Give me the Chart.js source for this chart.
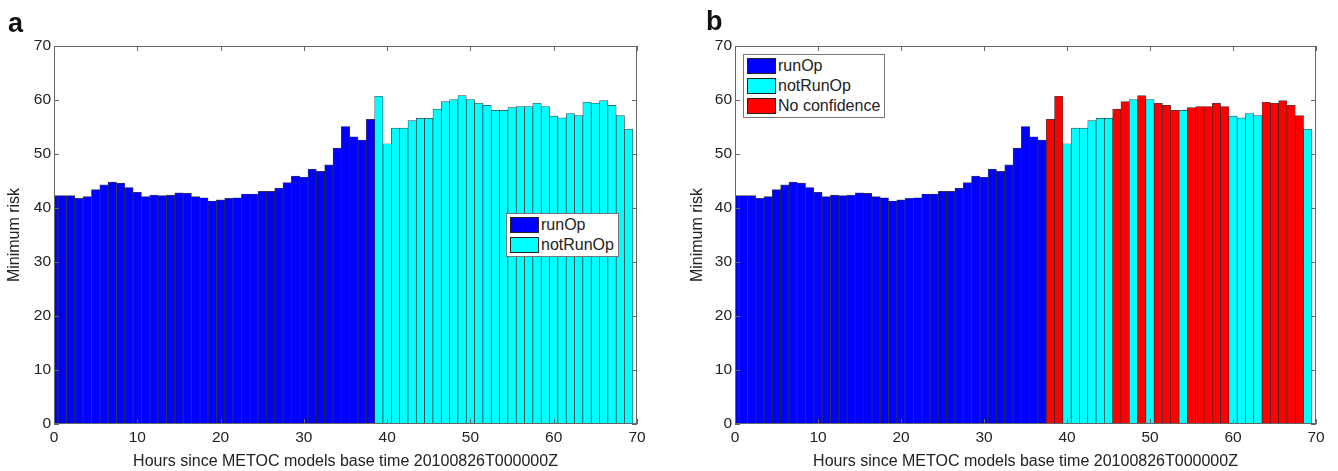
<!DOCTYPE html>
<html>
<head>
<meta charset="utf-8">
<script src="https://cdn.jsdelivr.net/npm/chart.js@4.4.1/dist/chart.umd.min.js"></script>
<style>
    html, body { margin: 0; padding: 0; background: #fff; }
    #figure { position: relative; width: 1338px; height: 471px; overflow: hidden;
              font-family: "Liberation Sans", Arial, sans-serif; color: #222; }
    .panel { position: absolute; top: 0; width: 669px; height: 471px; }
    .tag { position: absolute; font-size: 27px; line-height: 27px; font-weight: bold; color: #111; }
    .legend { position: absolute; background: #fff; border: 1px solid #777; padding: 1px 4px 1px 3px; }
    .legend .row { display: flex; align-items: center; height: 20px; font-size: 16px; white-space: nowrap; }
    .legend .sw { width: 27px; height: 14px; border: 1px solid #222; margin-right: 2px; }
</style>
</head>
<body>
<div id="figure">
    <div class="panel" style="left:0"><canvas id="chart-a" width="669" height="471"></canvas></div>
    <div class="panel" style="left:669px"><canvas id="chart-b" width="669" height="471"></canvas></div>
    <div class="tag" style="left:8px; top:10px">a</div>
    <div class="tag" style="left:706px; top:8px">b</div>
    <div class="legend" id="legend-a" style="left:506px; top:213px"></div>
    <div class="legend" id="legend-b" style="left:743px; top:54px"></div>
</div>

<script>
// Hourly minimum risk, hours since the METOC base time
const hours = [0, 1, 2, 3, 4, 5, 6, 7, 8, 9, 10, 11, 12, 13, 14, 15, 16, 17, 18, 19,
    20, 21, 22, 23, 24, 25, 26, 27, 28, 29, 30, 31, 32, 33, 34, 35, 36, 37, 38, 39,
    40, 41, 42, 43, 44, 45, 46, 47, 48, 49, 50, 51, 52, 53, 54, 55, 56, 57, 58, 59,
    60, 61, 62, 63, 64, 65, 66, 67, 68, 69];

const minRisk = [42.3, 42.3, 42.3, 41.8, 42.1, 43.4, 44.3, 44.8, 44.6, 43.8,
    42.9, 42.1, 42.4, 42.3, 42.4, 42.8, 42.7, 42.1, 41.9, 41.3,
    41.5, 41.8, 41.9, 42.6, 42.6, 43.1, 43.1, 43.7, 44.7, 45.9,
    45.7, 47.2, 46.8, 48.0, 51.1, 55.1, 53.2, 52.6, 56.4, 60.7,
    51.9, 54.8, 54.8, 56.2, 56.6, 56.6, 58.3, 59.7, 60.1, 60.8,
    60.1, 59.4, 59.0, 58.1, 58.1, 58.6, 58.8, 58.8, 59.4, 58.8,
    57.0, 56.7, 57.5, 57.1, 59.6, 59.4, 59.9, 59.0, 57.1, 54.6];

// Decision per hour: 0 = runOp, 1 = notRunOp, 2 = No confidence
const seriesNames = ['runOp', 'notRunOp', 'No confidence'];
const seriesColors = ['#0000ff', '#00ffff', '#ff0000'];

const decisionA = [0, 0, 0, 0, 0, 0, 0, 0, 0, 0, 0, 0, 0, 0, 0, 0, 0, 0, 0, 0,
    0, 0, 0, 0, 0, 0, 0, 0, 0, 0, 0, 0, 0, 0, 0, 0, 0, 0, 0, 1,
    1, 1, 1, 1, 1, 1, 1, 1, 1, 1, 1, 1, 1, 1, 1, 1, 1, 1, 1, 1,
    1, 1, 1, 1, 1, 1, 1, 1, 1, 1];

const decisionB = [0, 0, 0, 0, 0, 0, 0, 0, 0, 0, 0, 0, 0, 0, 0, 0, 0, 0, 0, 0,
    0, 0, 0, 0, 0, 0, 0, 0, 0, 0, 0, 0, 0, 0, 0, 0, 0, 0, 2, 2,
    1, 1, 1, 1, 1, 1, 2, 2, 1, 2, 1, 2, 2, 2, 1, 2, 2, 2, 2, 2,
    1, 1, 1, 1, 2, 2, 2, 2, 2, 1];

const xTicks = [0, 10, 20, 30, 40, 50, 60, 70];
const yTicks = [0, 10, 20, 30, 40, 50, 60, 70];

const xTitle = 'Hours since METOC models base time 20100826T000000Z';
const yTitle = 'Minimum risk';

// Box round the plot area with short inward tick marks on all four sides
const boxTicks = {
    id: 'boxTicks',
    afterDatasetsDraw(chart) {
        const { ctx, chartArea: a, scales } = chart;
        const len = 5;
        ctx.save();
        ctx.strokeStyle = '#666';
        ctx.lineWidth = 1;
        ctx.strokeRect(a.left + 0.5, a.top + 0.5, a.right - a.left - 1, a.bottom - a.top - 1);
        ctx.beginPath();
        xTicks.forEach(v => {
            const px = Math.round(scales.x.getPixelForValue(v)) + 0.5;
            ctx.moveTo(px, a.bottom); ctx.lineTo(px, a.bottom - len);
            ctx.moveTo(px, a.top); ctx.lineTo(px, a.top + len);
        });
        yTicks.forEach(v => {
            const py = Math.round(scales.y.getPixelForValue(v)) + 0.5;
            ctx.moveTo(a.left, py); ctx.lineTo(a.left + len, py);
            ctx.moveTo(a.right, py); ctx.lineTo(a.right - len, py);
        });
        ctx.stroke();
        ctx.restore();
    }
};

function buildDatasets(decision, used) {
    return used.map(k => ({
        label: seriesNames[k],
        data: hours.filter((h, i) => decision[i] === k).map(h => ({ x: h, y: minRisk[h] })),
        backgroundColor: seriesColors[k],
        borderColor: 'rgba(0,0,0,0.75)',
        borderWidth: 0.7,
        borderSkipped: 'start'
    }));
}

function renderPanel(canvasId, decision, used, padLeft, padRight, yTitlePad) {
    const ctx = document.getElementById(canvasId).getContext('2d');
    const tickFont = { family: '"Liberation Sans", Arial, sans-serif', size: 15.5 };
    const titleFont = { family: '"Liberation Sans", Arial, sans-serif', size: 16 };

    return new Chart(ctx, {
        type: 'bar',
        data: { datasets: buildDatasets(decision, used) },
        options: {
            responsive: false,
            animation: false,
            devicePixelRatio: 1,
            layout: { padding: { left: padLeft, right: padRight, top: 46, bottom: 0 } },
            plugins: { legend: { display: false }, tooltip: { enabled: false } },
            datasets: {
                bar: { barPercentage: 1, categoryPercentage: 1, grouped: false, clip: 0 }
            },
            scales: {
                x: {
                    type: 'linear', min: 0, max: 70, offset: false,
                    grid: { display: false, drawTicks: false },
                    border: { display: false },
                    afterBuildTicks: s => { s.ticks = xTicks.map(v => ({ value: v })); },
                    ticks: { font: tickFont, color: '#222', padding: 4, maxRotation: 0 },
                    title: { display: true, text: xTitle, font: titleFont, color: '#222', padding: { top: 4.4, bottom: 0 } },
                    afterFit: s => { s.height = 47; }
                },
                y: {
                    type: 'linear', min: 0, max: 70,
                    grid: { display: false, drawTicks: false },
                    border: { display: false },
                    afterBuildTicks: s => { s.ticks = yTicks.map(v => ({ value: v })); },
                    ticks: { font: tickFont, color: '#222', padding: 3 },
                    title: { display: true, text: yTitle, font: titleFont, color: '#222', padding: { top: yTitlePad, bottom: 0 } },
                    afterFit: s => { s.width = 54; }
                }
            }
        },
        plugins: [boxTicks]
    });
}

function renderLegend(elId, used) {
    const box = document.getElementById(elId);
    used.forEach(k => {
        const row = document.createElement('div');
        row.className = 'row';
        const sw = document.createElement('span');
        sw.className = 'sw';
        sw.style.background = seriesColors[k];
        const label = document.createElement('span');
        label.textContent = seriesNames[k];
        row.appendChild(sw);
        row.appendChild(label);
        box.appendChild(row);
    });
}

renderPanel('chart-a', decisionA, [0, 1], 0, 32, 5.4);
renderPanel('chart-b', decisionB, [0, 1, 2], 12, 22, 7.4);
renderLegend('legend-a', [0, 1]);
renderLegend('legend-b', [0, 1, 2]);
</script>
</body>
</html>
